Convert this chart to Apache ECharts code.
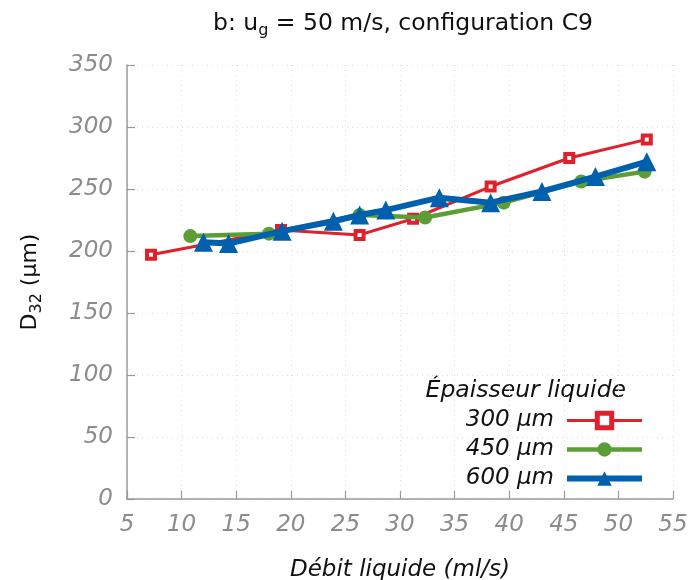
<!DOCTYPE html>
<html>
<head>
<meta charset="utf-8">
<script src="https://cdn.jsdelivr.net/npm/echarts@6/dist/echarts.min.js"></script>
<style>
  html, body { margin: 0; padding: 0; background: #fff; }
  #chart { width: 690px; height: 580px; }
</style>
</head>
<body>
<div id="chart"></div>
<script>
// Débit liquide (ml/s) vs D32 (µm), one list per film thickness
const x300 = [7.2, 19.1, 26.3, 31.2, 38.3, 45.5, 52.6];
const y300 = [197, 217, 213, 226, 252, 275, 290];

const x450 = [10.8, 18.0, 26.3, 32.3, 39.5, 46.6, 52.4];
const y450 = [212, 214, 229, 227, 239, 256, 264];

const x600 = [12.0, 14.3, 19.2, 23.9, 26.3, 28.7, 33.6, 38.3, 43.0, 47.9, 52.6];
const y600 = [207, 206, 216, 224, 229, 233, 243, 239, 248, 260, 272];

const seriesNames = ['300 µm', '450 µm', '600 µm'];
const legendTitle = 'Épaisseur liquide';

const font = 'DejaVu Sans';
const tickColor = '#8c8c8c';
const red = '#e0202a', green = '#5c9e35', blue = '#0060ad';

function pairs(xs, ys) {
    return xs.map((x, i) => [x, ys[i]]);
}

const chart = echarts.init(document.getElementById('chart'));

const option = {
    animation: false,
    backgroundColor: '#fff',
    title: {
        text: '{n|b: u}{s|g}{n| = 50 m/s, configuration C9}',
        left: 398,
        textAlign: 'center',
        top: 4,
        textStyle: {
            fontWeight: 'normal',
            rich: {
                n: { fontFamily: font, fontSize: 23.5, fontWeight: 'normal', color: '#111', lineHeight: 30, verticalAlign: 'middle' },
                s: { fontFamily: font, fontSize: 16, fontWeight: 'normal', color: '#111', lineHeight: 17, verticalAlign: 'bottom' }
            }
        }
    },
    grid: { left: 127, right: 17, top: 65, bottom: 81, outerBoundsMode: 'none' },
    xAxis: {
        type: 'value',
        min: 5,
        max: 55,
        interval: 5,
        name: 'Débit liquide (ml/s)',
        nameLocation: 'middle',
        nameGap: 60,
        nameTextStyle: { fontFamily: font, fontSize: 23, fontStyle: 'italic', color: '#111' },
        axisLine: { lineStyle: { color: '#9a9a9a', width: 1.5 } },
        axisTick: { inside: true, length: 8, lineStyle: { color: '#9a9a9a', width: 1.2 } },
        axisLabel: { fontFamily: font, fontSize: 23, fontStyle: 'italic', color: tickColor, margin: 15 },
        splitLine: { show: true, lineStyle: { color: '#dcdcdc', type: [1, 4], width: 1 } }
    },
    yAxis: {
        type: 'value',
        min: 0,
        max: 350,
        interval: 50,
        name: '{n|D}{s|32}{n| (µm)}',
        nameLocation: 'middle',
        nameGap: 82,
        nameRotate: 90,
        nameTextStyle: {
            rich: {
                n: { fontFamily: font, fontSize: 22, color: '#111', lineHeight: 30, verticalAlign: 'middle' },
                s: { fontFamily: font, fontSize: 16, color: '#111', lineHeight: 17, verticalAlign: 'bottom' }
            }
        },
        axisLine: { show: true, lineStyle: { color: '#9a9a9a', width: 1.5 } },
        axisTick: { show: true, inside: true, length: 8, lineStyle: { color: '#9a9a9a', width: 1.2 } },
        axisLabel: { fontFamily: font, fontSize: 23, fontStyle: 'italic', color: tickColor, margin: 14 },
        splitLine: { show: true, lineStyle: { color: '#dcdcdc', type: [1, 4], width: 1 } }
    },
    legend: {
        orient: 'vertical',
        align: 'right',
        right: 40,
        top: 404,
        itemWidth: 75,
        itemHeight: 18,
        itemGap: 6,
        data: [
            { name: seriesNames[0], lineStyle: { width: 3 }, itemStyle: { borderWidth: 5 } },
            { name: seriesNames[1], lineStyle: { width: 4.5 } },
            { name: seriesNames[2], lineStyle: { width: 6 } }
        ],
        textStyle: { fontFamily: font, fontSize: 23, fontStyle: 'italic', color: '#111', lineHeight: 22, padding: [0, 8, 0, 0] }
    },
    graphic: [{
        type: 'text',
        right: 64,
        top: 379,
        style: {
            text: legendTitle,
            fontFamily: font,
            fontSize: 23.5,
            fontStyle: 'italic',
            fill: '#111'
        }
    }],
    series: [
        {
            name: seriesNames[0],
            type: 'line',
            data: pairs(x300, y300),
            symbol: 'rect',
            symbolSize: 8,
            itemStyle: { color: '#fff', borderColor: red, borderWidth: 4 },
            lineStyle: { color: red, width: 3 },
            z: 3
        },
        {
            name: seriesNames[1],
            type: 'line',
            data: pairs(x450, y450),
            symbol: 'circle',
            symbolSize: 14,
            itemStyle: { color: green },
            lineStyle: { color: green, width: 4.5 },
            z: 4
        },
        {
            name: seriesNames[2],
            type: 'line',
            data: pairs(x600, y600),
            symbol: 'triangle',
            symbolSize: 19,
            itemStyle: { color: blue },
            lineStyle: { color: blue, width: 6 },
            z: 5
        }
    ]
};

chart.setOption(option);
</script>
</body>
</html>
